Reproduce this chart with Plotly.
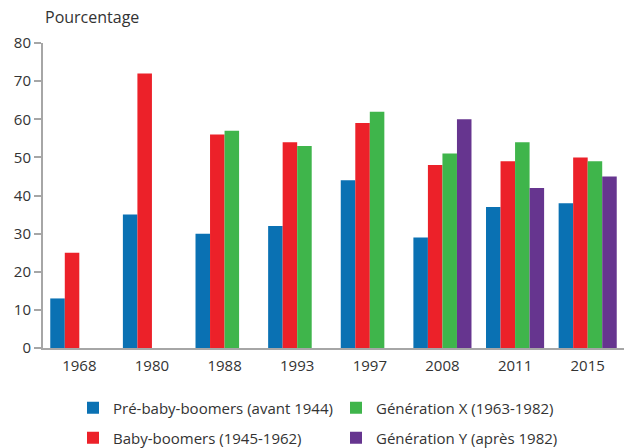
import plotly.graph_objects as go

years = ["1968", "1980", "1988", "1993", "1997", "2008", "2011", "2015"]
pre_baby_boomers = [13, 35, 30, 32, 44, 29, 37, 38]
baby_boomers = [25, 72, 56, 54, 59, 48, 49, 50]
generation_x = [None, None, 57, 53, 62, 51, 54, 49]
generation_y = [None, None, None, None, None, 60, 42, 45]

series_names = [
    "Pré-baby-boomers (avant 1944)",
    "Baby-boomers (1945-1962)",
    "Génération X (1963-1982)",
    "Génération Y (après 1982)",
]
series_values = [pre_baby_boomers, baby_boomers, generation_x, generation_y]
colors = ["#0a71b3", "#ec2129", "#3fb54b", "#66358f"]
legend_ids = ["legend", "legend3", "legend2", "legend4"]

FONT = "Open Sans"
TXT = "#333333"
AX = "#a6a6a6"

fig = go.Figure()
for name, vals, col, lg in zip(series_names, series_values, colors, legend_ids):
    fig.add_trace(go.Bar(x=years, y=vals, name=name, marker_color=col,
                         marker_line_width=0, legend=lg, showlegend=True))

L, R, T, B = 43, 1, 43, 100
W, H = 625, 448
pw = W - L - R
ph = H - T - B

def lx(px):
    return (px - L) / pw

def ly(py):
    return (H - B - py) / ph

leg_common = dict(font=dict(family=FONT, size=15, color=TXT), bgcolor="rgba(0,0,0,0)",
                  borderwidth=0, xanchor="left", yanchor="middle", itemwidth=30,
                  orientation="v", visible=True)

fig.update_layout(
    width=W, height=H,
    showlegend=True,
    margin=dict(l=L, r=R, t=T, b=B, autoexpand=False),
    plot_bgcolor="white", paper_bgcolor="white",
    barmode="group", bargap=0.2, bargroupgap=0,
    font=dict(family=FONT, size=15, color=TXT),
    xaxis=dict(showline=True, linecolor=AX, linewidth=2, ticks="", showgrid=False,
               tickfont=dict(family=FONT, size=15, color=TXT), ticklabelstandoff=3,
               range=[-0.5, 7.5]),
    yaxis=dict(range=[0, 80], dtick=10, showline=True, linecolor=AX, linewidth=2,
               ticks="outside", ticklen=7, tickcolor=AX, tickwidth=2, showgrid=False,
               zeroline=False, tickfont=dict(family=FONT, size=15, color=TXT)),
    legend=dict(x=lx(73), y=ly(408), **leg_common),
    legend2=dict(x=lx(336), y=ly(408), **leg_common),
    legend3=dict(x=lx(73), y=ly(438), **leg_common),
    legend4=dict(x=lx(336), y=ly(438), **leg_common),
    annotations=[dict(text="Pourcentage", xref="paper", yref="paper", x=0, y=ly(17),
                      xanchor="left", yanchor="middle", showarrow=False,
                      font=dict(family=FONT, size=16, color=TXT))],
)

fig.write_html("out.html", config={"displayModeBar": False},
               post_script="document.body.style.margin='0';")
